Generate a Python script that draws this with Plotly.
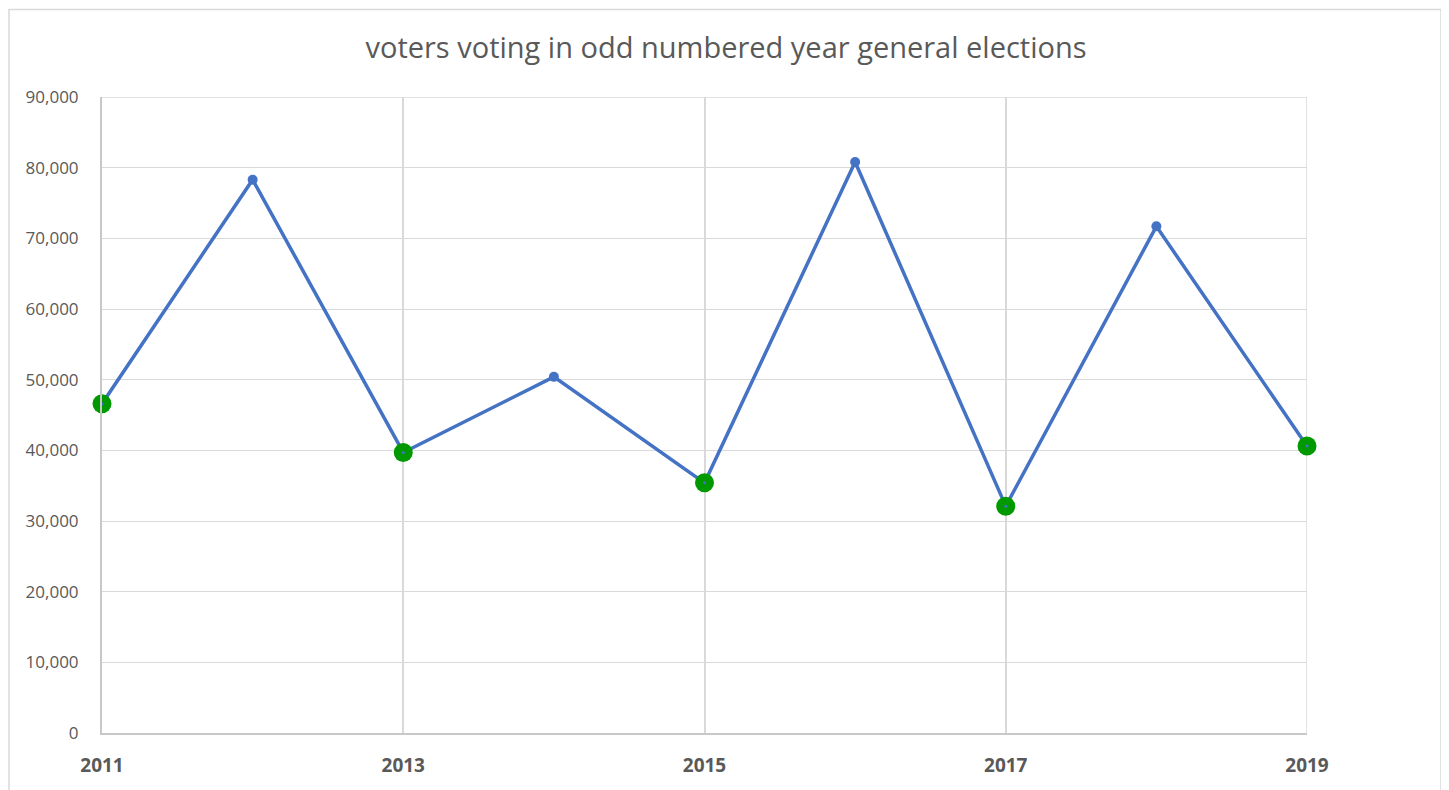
import plotly.graph_objects as go

years = [2011, 2012, 2013, 2014, 2015, 2016, 2017, 2018, 2019]
voters = [46600, 78300, 39700, 50400, 35400, 80800, 32100, 71700, 40600]

odd_years = [2011, 2013, 2015, 2017, 2019]
odd_voters = [46600, 39700, 35400, 32100, 40600]

y_ticks = [0, 10000, 20000, 30000, 40000, 50000, 60000, 70000, 80000, 90000]
y_tick_labels = ["0", "10,000", "20,000", "30,000", "40,000", "50,000",
                 "60,000", "70,000", "80,000", "90,000"]
x_ticks = [2011, 2013, 2015, 2017, 2019]
x_tick_labels = ["2011", "2013", "2015", "2017", "2019"]

title_text = "voters voting in odd numbered year general elections"

OFF = 8  # page body margin
W, H = 1449 - OFF, 790 - OFF
L, R, T, B = 102 - OFF, 1307 - OFF, 97 - OFF, 736 - OFF

fig = go.Figure()
fig.add_trace(go.Scatter(
    x=years, y=voters, mode="lines+markers",
    line=dict(color="#4472C4", width=3.5),
    marker=dict(color="#4472C4", size=10),
    cliponaxis=False, showlegend=False, hoverinfo="x+y"))
fig.add_trace(go.Scatter(
    x=odd_years, y=odd_voters, mode="markers",
    marker=dict(color="#009900", size=19, line=dict(width=0)),
    cliponaxis=False, showlegend=False, hoverinfo="x+y"))
fig.add_trace(go.Scatter(
    x=odd_years, y=odd_voters, mode="markers",
    marker=dict(color="#4472C4", size=3),
    cliponaxis=False, showlegend=False, hoverinfo="skip"))

def px_to_paper_x(px):
    return (px - OFF - L) / (R - L)

def px_to_paper_y(py):
    return (B - (py - OFF)) / (B - T)

fig.add_shape(type="rect", xref="paper", yref="paper",
              x0=px_to_paper_x(9), x1=px_to_paper_x(1441),
              y0=px_to_paper_y(800), y1=px_to_paper_y(9),
              line=dict(color="#d9d9d9", width=1.5), fillcolor="rgba(0,0,0,0)",
              layer="below")

fig.update_layout(
    width=W, height=H,
    margin=dict(l=L, r=W - R, t=T, b=H - B),
    paper_bgcolor="white", plot_bgcolor="white",
    title=dict(text=title_text, x=(726 - OFF) / W, xref="container", xanchor="center",
               y=1 - (48 - OFF) / H, yref="container", yanchor="middle",
               font=dict(family="Open Sans", size=29, color="#595959")),
    font=dict(family="Open Sans", color="#595959"),
    xaxis=dict(range=[2011, 2019], tickvals=x_ticks, ticktext=x_tick_labels,
               showgrid=True, gridcolor="#d9d9d9", gridwidth=1.5,
               showline=True, linecolor="#c8c8c8", linewidth=2,
               zeroline=False, ticks="", ticklabelstandoff=14,
               tickfont=dict(family="Open Sans", size=19, color="#595959", weight="bold")),
    yaxis=dict(range=[0, 90000], tickvals=y_ticks, ticktext=y_tick_labels,
               showgrid=True, gridcolor="#d9d9d9", gridwidth=1,
               showline=True, linecolor="#c8c8c8", linewidth=2,
               zeroline=False, ticks="", ticklabelstandoff=18,
               tickfont=dict(family="Open Sans", size=17, color="#595959")),
)
fig.add_shape(type="line", xref="x", yref="paper", x0=2019, x1=2019, y0=0, y1=1,
              line=dict(color="#d9d9d9", width=1.5), layer="below")
fig.add_shape(type="line", xref="paper", yref="y", x0=0, x1=1, y0=90000, y1=90000,
              line=dict(color="#d9d9d9", width=1.5), layer="below")

fig.write_html("out.html")
